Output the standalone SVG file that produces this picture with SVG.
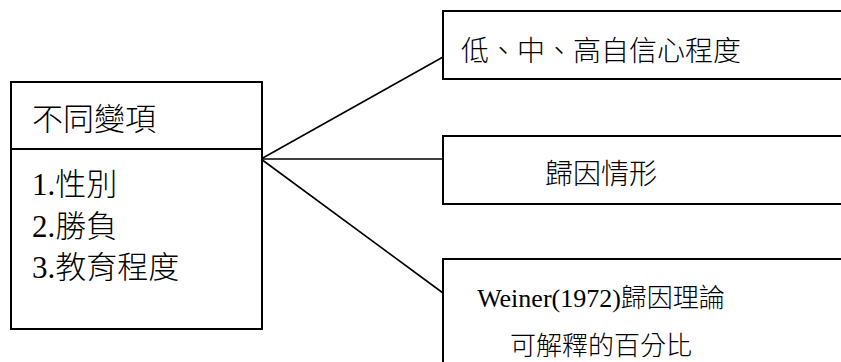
<svg xmlns="http://www.w3.org/2000/svg" width="841" height="362" viewBox="0 0 841 362">
<style>
.box{fill:#fff;stroke:#000;stroke-width:2}
.conn{stroke:#000;stroke-width:1.6;fill:none}
text{font-family:"Liberation Serif","Noto Sans CJK TC",serif;font-size:28px;font-weight:300;fill:#000}
.c{text-anchor:middle}
.l{font-size:31px}
.s{font-size:26px}
</style>
<rect width="841" height="362" fill="#fff"/>
<g id="connectors">
<line class="conn" x1="261" y1="159" x2="443" y2="57"/>
<line class="conn" x1="261" y1="159" x2="443" y2="159"/>
<line class="conn" x1="261" y1="159" x2="443" y2="293"/>
</g>
<g id="variables">
<rect class="box" x="11" y="82" width="251" height="247"/>
<line x1="11" y1="149" x2="262" y2="149" stroke="#000" stroke-width="2"/>
<text class="l" x="32" y="130">不同變項</text>
<text class="l" x="32" y="195">1.性別</text>
<text class="l" x="32" y="237">2.勝負</text>
<text class="l" x="32" y="278">3.教育程度</text>
</g>
<g id="confidence">
<rect class="box" x="443" y="11" width="402" height="68"/>
<text class="c" x="601" y="61">低、中、高自信心程度</text>
</g>
<g id="attribution">
<rect class="box" x="443" y="136" width="402" height="68"/>
<text class="c" x="601" y="184">歸因情形</text>
</g>
<g id="weiner">
<rect class="box" x="443" y="259" width="402" height="110"/>
<text class="c s" x="601" y="307">Weiner(1972)歸因理論</text>
<text class="c s" x="601" y="355">可解釋的百分比</text>
</g>
</svg>
